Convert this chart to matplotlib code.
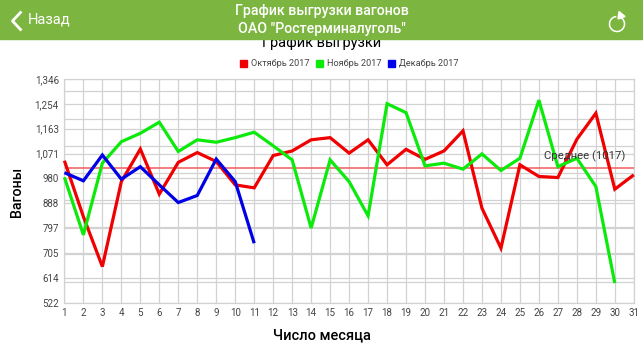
import matplotlib
matplotlib.use("Agg")
import matplotlib.pyplot as plt
from matplotlib.patches import Rectangle, Arc, Polygon
from matplotlib.lines import Line2D

days = list(range(1, 32))
october = [1045, 839, 655, 968, 1088, 922, 1039, 1075, 1042, 956, 945, 1064, 1081, 1122, 1130, 1073,
           1122, 1030, 1087, 1050, 1081, 1155, 870, 723, 1030, 987, 983, 1124, 1220, 940, 993]
november = [984, 772, 1036, 1115, 1146, 1187, 1079, 1122, 1113, 1130, 1150, 1100, 1048, 797, 1048, 968,
            842, 1255, 1222, 1026, 1036, 1014, 1070, 1009, 1054, 1268, 1023, 1054, 950, 594]
december = [1001, 971, 1066, 977, 1023, 956, 891, 917, 1051, 968, 741]
average = 1017
y_ticks = [522, 614, 705, 797, 888, 980, 1071, 1163, 1254, 1346]
y_hundreds = [600, 700, 800, 900, 1000, 1100, 1200, 1300]

W, H = 643, 362
plt.rcParams['font.family'] = ['Roboto', 'DejaVu Sans']

fig = plt.figure(figsize=(W / 100, H / 100), dpi=100)
ax = fig.add_axes([64.4 / W, 1 - 302.7 / H, (633.8 - 64.4) / W, (302.7 - 79) / H])

grid_color = '#d2d2d2'
ax.set_xlim(1, 31)
ax.set_ylim(522, 1346)
ax.set_xticks(days)
ax.set_yticks(y_ticks)
ax.set_yticklabels([f"{v:,}" for v in y_ticks])
ax.grid(True, color=grid_color, linewidth=0.9)
for v in y_hundreds:
    ax.axhline(v, color=grid_color, linewidth=0.9, zorder=1)
ax.set_axisbelow(True)
ax.tick_params(length=0, labelsize=7, labelcolor='#444444', pad=3.5)
ax.tick_params(axis='y', pad=4)
for side in ax.spines.values():
    side.set_color(grid_color)
    side.set_linewidth(0.9)

ax.axhline(average, color='#f26a6a', linewidth=1.2, zorder=2)
line_style = dict(linewidth=2.3, solid_joinstyle='miter', solid_capstyle='butt', clip_on=False)
ax.plot(days[:len(october)], october, color='#f00000', zorder=3, **line_style)
ax.plot(days[:len(november)], november, color='#0cea0c', zorder=4, **line_style)
ax.plot(days[:len(december)], december, color='#0000e6', zorder=5, **line_style)

ax.text(625 / W, 1 - 156 / H, f"Среднее ({average})", transform=fig.transFigure, ha='right', va='center',
        fontsize=8.2, color='#333333', zorder=6)

fig.text(17 / W, 1 - 192 / H, "Вагоны", rotation=90, ha='center', va='center', fontsize=10.3, fontweight='medium')
fig.text(321.5 / W, 1 - 335 / H, "Число месяца", ha='center', va='center', fontsize=10.5, fontweight='medium')

# chart title sits under the app bar, its top gets cut
fig.text(321.5 / W, 1 - 43.5 / H, "График выгрузки", ha='center', va='center', fontsize=10.5, zorder=1)

# legend
legend_items = [("Октябрь 2017", '#f00000', 240), ("Ноябрь 2017", '#0cea0c', 316), ("Декабрь 2017", '#0000e6', 388)]
for name, color, px in legend_items:
    fig.add_artist(Rectangle((px / W, 1 - 67 / H), 7 / W, 7 / H, transform=fig.transFigure, color=color))
    fig.text((px + 11) / W, 1 - 63.5 / H, name, ha='left', va='center', fontsize=6.6, color='#444444')

# app bar
bar_color = '#7cb53f'
fig.add_artist(Rectangle((0, 1 - 38.6 / H), 1, 38.6 / H, transform=fig.transFigure, color=bar_color, zorder=10))
fig.text(322 / W, 1 - 11.5 / H, "График выгрузки вагонов", ha='center', va='center', fontsize=10.2,
         fontweight='medium', color='white', zorder=11)
fig.text(322 / W, 1 - 29.5 / H, "ОАО \"Ростерминалуголь\"", ha='center', va='center', fontsize=10.2,
         fontweight='medium', color='white', zorder=11)
fig.text(28 / W, 1 - 20 / H, "Назад", ha='left', va='center', fontsize=10.5, color='white', zorder=11)
fig.add_artist(Line2D([20.5 / W, 12.5 / W, 20.5 / W], [1 - 12.5 / H, 1 - 21 / H, 1 - 29.5 / H],
                      transform=fig.transFigure, color='white', linewidth=2, zorder=11))

# refresh icon
overlay = fig.add_axes([0, 0, 1, 1], zorder=20)
overlay.set_xlim(0, W)
overlay.set_ylim(H, 0)
overlay.axis('off')
overlay.add_patch(Arc((617, 24), 15, 15, theta1=-60, theta2=265, color='white', linewidth=1.1))
overlay.add_patch(Polygon([[619, 11.5], [625, 16.5], [618, 19]], closed=True, color='white'))

fig.savefig('out.png', dpi=100)
